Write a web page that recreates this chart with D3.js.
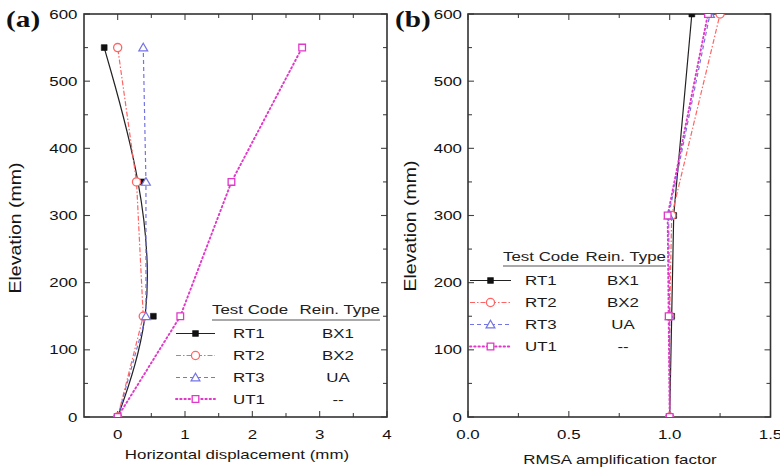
<!DOCTYPE html>
<html><head><meta charset="utf-8">
<script src="https://cdn.jsdelivr.net/npm/d3@7"></script>
<style>body{margin:0;background:#fff}svg{display:block}</style>
</head><body>
<svg id="c" width="780" height="468"></svg>
<script>
// ---------- data ----------
const seriesNames = ["RT1", "RT2", "RT3", "UT1"];
const reinTypes = ["BX1", "BX2", "UA", "--"];

// panel (a): horizontal displacement (mm) vs elevation (mm)
const elevA = [0, 150, 350, 550];
const dispRT1 = [0, 0.53, 0.37, -0.2];
const dispRT2 = [0, 0.38, 0.28, 0.0];
const dispRT3 = [0, 0.42, 0.42, 0.38];
const dispUT1 = [0, 0.93, 1.69, 2.74];

// panel (b): RMSA amplification factor vs elevation (mm)
const elevB = [0, 150, 300, 600];
const ampRT1 = [1.0, 1.01, 1.02, 1.11];
const ampRT2 = [1.0, 1.0, 1.01, 1.25];
const ampRT3 = [1.0, 1.0, 0.995, 1.2];
const ampUT1 = [1.0, 0.995, 0.99, 1.19];

// ticks
const yTicks = [0, 100, 200, 300, 400, 500, 600];
const yMinor = [50, 150, 250, 350, 450, 550];
const xTicksA = [0, 1, 2, 3, 4];
const xMinorA = [0.5, 1.5, 2.5, 3.5];
const xTicksB = [0, 0.5, 1.0, 1.5];
const xLabelsB = ["0.0", "0.5", "1.0", "1.5"];
const xMinorB = [0.25, 0.75, 1.25];

// ---------- styling ----------
const SANS = "'Liberation Sans', Arial, Helvetica, sans-serif";
const SERIF = "'Liberation Serif', 'Times New Roman', serif";
const SX = 1.3; // horizontal text stretch of the reference
const styles = [
  {color: "#222", dash: null, width: 1.2, sym: "sqf"},
  {color: "#ff6464", dash: "5,2,1.5,2", width: 1.2, sym: "circ"},
  {color: "#7474e4", dash: "4,3", width: 1.2, sym: "tri"},
  {color: "#e038c8", dash: "1.4,2.8", width: 1.9, sym: "sqo", cap: "round"}
];

const svg = d3.select("#c");

function stext(g, x, y, str, o = {}) {
  const sx = o.sx || SX;
  return g.append("text")
    .attr("transform", `translate(${x},${y})${o.rot ? ` rotate(${o.rot})` : ""} scale(${sx},1)`)
    .attr("text-anchor", o.anchor || "start")
    .attr("font-family", o.family || SANS)
    .attr("font-size", o.size || 13)
    .attr("font-weight", o.weight || "normal")
    .attr("fill", o.fill || "#161616")
    .text(str);
}

function marker(g, x, y, st) {
  const c = st.color;
  if (st.sym === "sqf") {
    g.append("path").attr("d", d3.symbol(d3.symbolSquare, 34)())
      .attr("transform", `translate(${x},${y})`).attr("fill", "#111").attr("stroke", "#111").attr("stroke-width", 0.6);
  } else if (st.sym === "circ") {
    g.append("path").attr("d", d3.symbol(d3.symbolCircle, 52)())
      .attr("transform", `translate(${x},${y})`).attr("fill", "#fff").attr("stroke", c).attr("stroke-width", 1.3);
  } else if (st.sym === "tri") {
    g.append("path").attr("d", d3.symbol(d3.symbolTriangle, 34)())
      .attr("transform", `translate(${x},${y + 0.8})`).attr("fill", "#fff").attr("stroke", c).attr("stroke-width", 1.2);
  } else {
    g.append("path").attr("d", d3.symbol(d3.symbolSquare, 44)())
      .attr("transform", `translate(${x},${y})`).attr("fill", "#fff").attr("stroke", c).attr("stroke-width", 1.3);
  }
}

function panel(cfg) {
  const x = d3.scaleLinear().domain(cfg.xDomain).range(cfg.xRange);
  const y = d3.scaleLinear().domain([0, 600]).range([417, 14]);
  const g = svg.append("g");
  const [x0, x1] = cfg.xRange, y0 = 417, y1 = 14;

  const clipId = "clip" + cfg.id;
  svg.append("clipPath").attr("id", clipId).append("rect")
    .attr("x", x0).attr("y", y1).attr("width", x1 - x0).attr("height", y0 - y1);

  // ticks (inward on all four sides)
  const tk = g.append("g").attr("stroke", "#444").attr("stroke-width", 1.1);
  const xt = (v, len) => {
    tk.append("line").attr("x1", x(v)).attr("x2", x(v)).attr("y1", y0).attr("y2", y0 - len);
    tk.append("line").attr("x1", x(v)).attr("x2", x(v)).attr("y1", y1).attr("y2", y1 + len);
  };
  const yt = (v, len) => {
    tk.append("line").attr("y1", y(v)).attr("y2", y(v)).attr("x1", x0).attr("x2", x0 + len);
    tk.append("line").attr("y1", y(v)).attr("y2", y(v)).attr("x1", x1).attr("x2", x1 - len);
  };
  cfg.xTicks.forEach(v => xt(v, 6));
  cfg.xMinor.forEach(v => xt(v, 4));
  yTicks.forEach(v => yt(v, 6));
  yMinor.forEach(v => yt(v, 4));

  // frame
  g.append("rect").attr("x", x0).attr("y", y1).attr("width", x1 - x0).attr("height", y0 - y1)
    .attr("fill", "none").attr("stroke", "#333").attr("stroke-width", 1.6);

  // tick labels
  cfg.xTicks.forEach((v, i) => stext(g, x(v), 438.5, cfg.xLabels[i], {anchor: "middle", fill: "#111"}));
  yTicks.forEach(v => stext(g, cfg.yLabelRight, y(v) + 4.6, String(v), {anchor: "end", fill: "#111"}));

  // axis titles
  stext(g, cfg.xTitleX, cfg.xTitleY, cfg.xTitle, {anchor: "middle"});
  stext(g, cfg.yTitleX, cfg.yTitleY, "Elevation (mm)", {anchor: "middle", rot: -90, size: 16, sx: 1.22});

  // panel letter
  stext(g, cfg.letterX, 27, cfg.letter, {family: SERIF, weight: "bold", size: 24, sx: 1.22, fill: "#111"});

  // data
  const dg = g.append("g").attr("clip-path", `url(#${clipId})`);
  cfg.series.forEach((vals, i) => {
    const st = styles[i];
    const pts = vals.map((v, j) => [x(v), y(cfg.elev[j])]);
    const line = d3.line().curve(cfg.curves[i]);
    dg.append("path").attr("d", line(pts)).attr("fill", "none")
      .attr("stroke", st.color).attr("stroke-width", st.width)
      .attr("stroke-dasharray", st.dash).attr("stroke-linecap", st.cap || "butt");
  });
  cfg.series.forEach((vals, i) => {
    vals.forEach((v, j) => marker(dg, x(v), y(cfg.elev[j]), styles[i]));
  });

  // legend
  const L = cfg.legend;
  const lg = g.append("g");
  stext(lg, L.h1, L.hy, "Test Code", {fill: "#222"});
  stext(lg, L.h2, L.hy, "Rein. Type", {anchor: "end", fill: "#222"});
  lg.append("line").attr("x1", L.h1).attr("x2", L.h2).attr("y1", L.uy).attr("y2", L.uy)
    .attr("stroke", "#555").attr("stroke-width", 1.2);
  seriesNames.forEach((nm, i) => {
    const st = styles[i];
    const ry = L.rows[i];
    lg.append("line").attr("x1", L.l1).attr("x2", L.l2).attr("y1", ry).attr("y2", ry)
      .attr("stroke", st.color).attr("stroke-width", st.width)
      .attr("stroke-dasharray", st.dash).attr("stroke-linecap", st.cap || "butt");
    marker(lg, (L.l1 + L.l2) / 2, ry, st);
    stext(lg, L.name, ry + 4.6, nm, {fill: "#1a1a1a"});
    stext(lg, L.rein, ry + 4.6, reinTypes[i], {anchor: "middle", fill: "#1a1a1a"});
  });
}

panel({
  id: "a", letter: "(a)", letterX: 6,
  xDomain: [-0.5, 4], xRange: [84, 387],
  xTicks: xTicksA, xLabels: xTicksA.map(String), xMinor: xMinorA,
  yLabelRight: 77.5,
  xTitle: "Horizontal displacement (mm)", xTitleX: 237, xTitleY: 458.5,
  yTitleX: 21, yTitleY: 228,
  elev: elevA,
  series: [dispRT1, dispRT2, dispRT3, dispUT1],
  curves: [d3.curveBasis, d3.curveLinear, d3.curveLinear, d3.curveLinear],
  legend: {h1: 212, h2: 380, hy: 313.5, uy: 320, rows: [333.5, 355.5, 377.5, 399],
           l1: 176, l2: 215, name: 233, rein: 338}
});

panel({
  id: "b", letter: "(b)", letterX: 395,
  xDomain: [0, 1.5], xRange: [468, 770.5],
  xTicks: xTicksB, xLabels: xLabelsB, xMinor: xMinorB,
  yLabelRight: 462,
  xTitle: "RMSA amplification factor", xTitleX: 620, xTitleY: 464,
  yTitleX: 416, yTitleY: 226,
  elev: elevB,
  series: [ampRT1, ampRT2, ampRT3, ampUT1],
  curves: [d3.curveLinear, d3.curveLinear, d3.curveLinear, d3.curveLinear],
  legend: {h1: 503, h2: 666, hy: 260.5, uy: 266, rows: [280.5, 302.5, 324.5, 346.5],
           l1: 470, l2: 511, name: 525, rein: 623}
});
</script>
</body></html>
